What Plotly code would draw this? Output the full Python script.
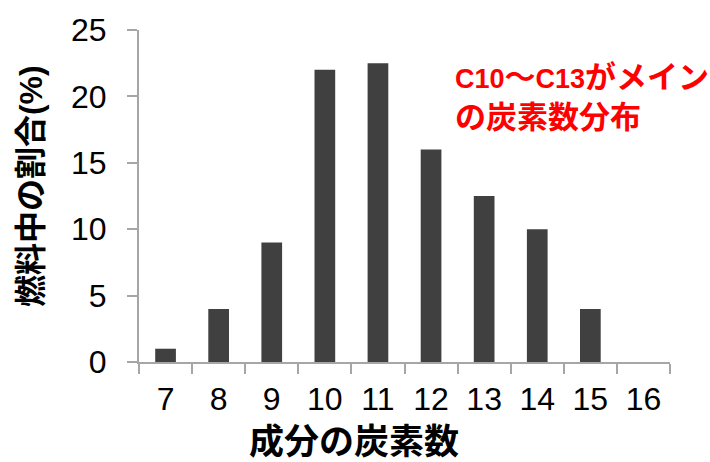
import plotly.graph_objects as go

# Carbon-number distribution of fuel components
carbon_numbers = ["7", "8", "9", "10", "11", "12", "13", "14", "15", "16"]
share_percent = [1, 4, 9, 22, 22.5, 16, 12.5, 10, 4, 0]
y_ticks = [0, 5, 10, 15, 20, 25]

FONT = "Liberation Sans, Arial, Noto Sans CJK JP, sans-serif"
AXIS_GRAY = "#a6a6a6"

fig = go.Figure(
    go.Bar(
        x=carbon_numbers,
        y=share_percent,
        marker=dict(color="#404040", line=dict(width=0)),
        width=0.39,
    )
)

axis_common = dict(
    ticks="outside",
    ticklen=10,
    tickcolor=AXIS_GRAY,
    tickwidth=2,
    showline=True,
    linecolor=AXIS_GRAY,
    linewidth=2,
    showgrid=False,
    tickfont=dict(size=32),
)

fig.update_layout(
    width=710,
    height=462,
    margin=dict(l=139, r=40, t=24, b=100),
    plot_bgcolor="white",
    paper_bgcolor="white",
    showlegend=False,
    font=dict(family=FONT, color="black", size=32),
    xaxis=dict(type="category", tickson="boundaries", ticklabelstandoff=8, **axis_common),
    yaxis=dict(range=[0, 25], tickvals=y_ticks, zeroline=False,
               ticklabelstandoff=14, **axis_common),
)

# Axis titles
fig.add_annotation(
    text="<b>成分の炭素数</b>",
    xref="paper", yref="paper", x=0.405, y=-0.24,
    xanchor="center", yanchor="middle", showarrow=False,
    font=dict(family=FONT, size=35, color="black"),
)
fig.add_annotation(
    text="<b>燃料中の割合(%)</b>",
    xref="paper", yref="paper", x=-0.2034, y=0.53,
    xanchor="center", yanchor="middle", showarrow=False, textangle=-90,
    font=dict(family=FONT, size=32, color="black"),
)

# Callout text: Latin parts slightly smaller than the kana/kanji
latin = "<span style='font-size:27px'>{}</span>"
callout = (
    "<b>" + latin.format("C10") + "～" + latin.format("C13") + "がメイン"
    "<br>の炭素数分布</b>"
)
fig.add_annotation(
    text=callout,
    xref="paper", yref="paper",
    x=(453 - 139) / 531, y=0.915,
    xanchor="left", yanchor="top",
    align="left",
    showarrow=False,
    font=dict(family=FONT, size=31, color="#ff0000"),
)

fig.write_html("out.html")
